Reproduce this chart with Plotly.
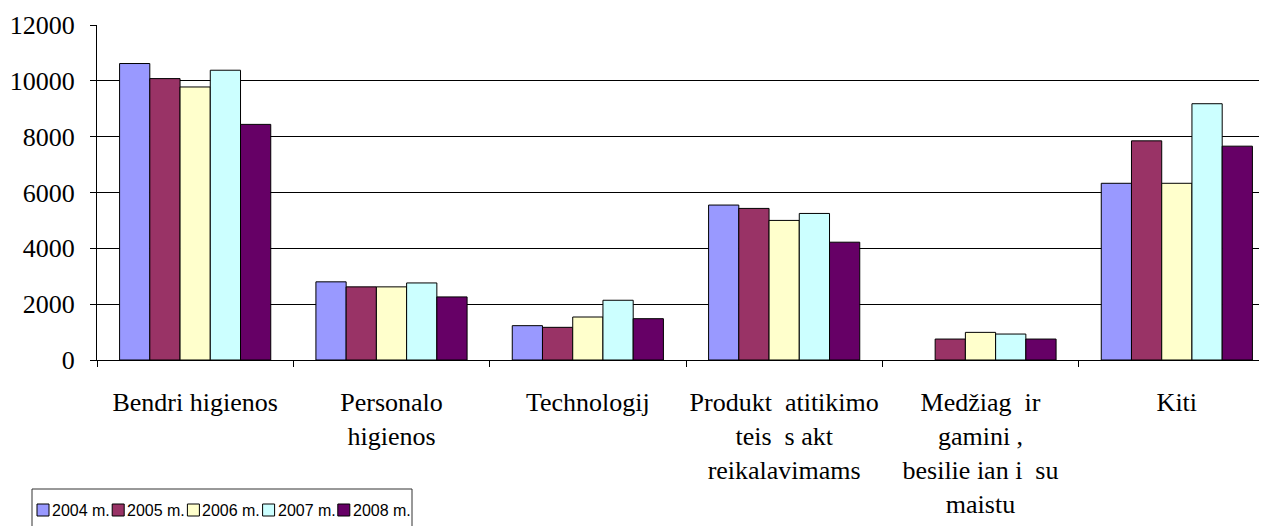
import plotly.graph_objects as go

NB = "\u00a0"
categories = [
    "Bendri higienos",
    "Personalo<br>higienos",
    "Technologij",
    f"Produkt{NB}{NB}atitikimo<br>teis{NB}{NB}s akt<br>reikalavimams",
    f"Medžiag{NB}{NB}ir<br>gamini{NB},<br>besilie{NB}ian{NB}i{NB}{NB}su<br>maistu",
    "Kiti",
]
series_names = ["2004 m.", "2005 m.", "2006 m.", "2007 m.", "2008 m."]
v2004 = [10620, 2800, 1230, 5550, None, 6330]
v2005 = [10080, 2620, 1170, 5430, 750, 7850]
v2006 = [9780, 2620, 1540, 5000, 990, 6330]
v2007 = [10380, 2760, 2140, 5250, 930, 9180]
v2008 = [8440, 2260, 1480, 4220, 750, 7660]
colors = ["#9999FF", "#993366", "#FFFFCC", "#CCFFFF", "#660066"]

SERIF = "Liberation Serif, Times New Roman, serif"
SANS = "Liberation Sans, Arial, sans-serif"

W, H = 1267, 526
OFF = 8  # page body margin offset
ML, MR, MT, MB = 97 - OFF, 0, 25 - OFF, H - (360 - OFF)
PW, PH = W - ML - MR, H - MT - MB


def px(x):  # page pixel -> paper
    return (x - OFF - ML) / PW


def py(y):
    return (H - MB - (y - OFF)) / PH


fig = go.Figure()
for name, vals, col in zip(series_names, [v2004, v2005, v2006, v2007, v2008], colors):
    fig.add_trace(go.Bar(
        x=categories, y=vals, name=name,
        marker=dict(color=col, line=dict(color="black", width=1)),
    ))

shapes = [dict(type="rect", xref="paper", yref="paper",
               x0=px(32), x1=px(412), y0=py(545), y1=py(489),
               line=dict(color="#333333", width=1), fillcolor="rgba(0,0,0,0)")]
annotations = []
item_w = 75.2
for i, (name, col) in enumerate(zip(series_names, colors)):
    sx = 37 + i * item_w
    shapes.append(dict(type="rect", xref="paper", yref="paper",
                       x0=px(sx), x1=px(sx + 12), y0=py(516), y1=py(504),
                       line=dict(color="black", width=1), fillcolor=col))
    annotations.append(dict(xref="paper", yref="paper", x=px(sx + 13), y=py(510),
                            text=name, showarrow=False, xanchor="left", yanchor="middle",
                            font=dict(family=SANS, size=16, color="black")))

fig.update_layout(
    width=W, height=H,
    paper_bgcolor="white", plot_bgcolor="white",
    margin=dict(l=ML, r=MR, t=MT, b=MB, autoexpand=False),
    barmode="group", bargap=0.23, bargroupgap=0,
    font=dict(family=SERIF, size=26, color="black"),
    showlegend=False,
    shapes=shapes, annotations=annotations,
)
fig.update_xaxes(
    range=[-0.5, 5.5], showline=True, linecolor="black", linewidth=1,
    ticks="outside", tickson="boundaries", ticklen=6, tickcolor="black",
    showgrid=False, ticklabelstandoff=19, tickangle=0, automargin=False,
    tickfont=dict(family=SERIF, size=26, color="black"),
)
fig.update_yaxes(
    range=[0, 12000], dtick=2000, tickformat="d", showline=True, linecolor="black", linewidth=1,
    ticks="outside", ticklen=6, tickcolor="black",
    showgrid=True, gridcolor="black", gridwidth=1, zeroline=False,
    ticklabelstandoff=10, automargin=False,
    tickfont=dict(family=SERIF, size=26, color="black"),
)

fig.write_html("out.html")
